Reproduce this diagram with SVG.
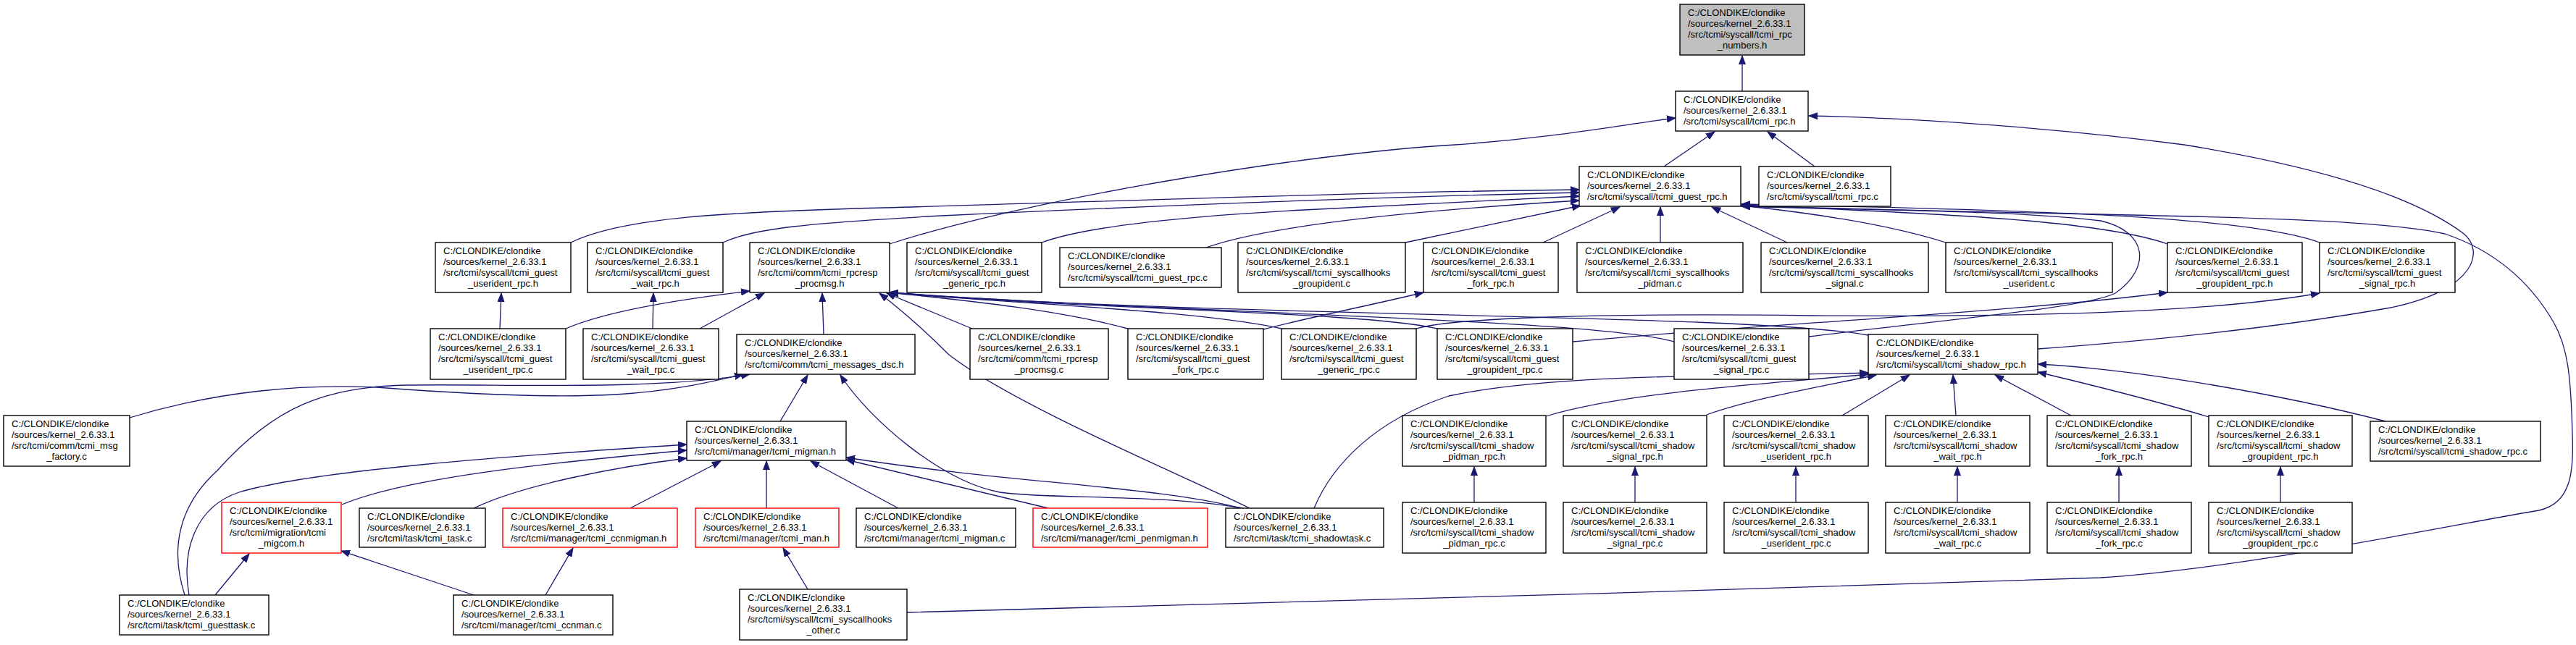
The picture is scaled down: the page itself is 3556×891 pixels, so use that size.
<svg xmlns="http://www.w3.org/2000/svg" width="3556" height="891" viewBox="0 0 3556 891">
<style>
.n rect{fill:#fff;stroke:#000;stroke-width:1.4}
.n.r rect{stroke:#ff0000}
.n.g rect{fill:#bfbfbf}
.n text{font-family:"Liberation Sans",Arial,sans-serif;font-size:13px;fill:#000}
.n text.c{text-anchor:middle}
#edges path{fill:none;stroke:#191970;stroke-width:1.3;marker-end:url(#a)}
</style>
<defs>
<marker id="a" markerWidth="13" markerHeight="10" refX="12" refY="5" orient="auto" markerUnits="userSpaceOnUse">
<path d="M0,0.5 L12,5 L0,9.5 z" fill="#191970" stroke="#191970" stroke-width="1"/>
</marker>
</defs>
<rect width="3556" height="891" fill="#fff"/>
<g id="edges">
<path d="M2405,126 L2405,77"/>
<path d="M2297,230 L2367,182"/>
<path d="M2505,230 L2440,182"/>
<path d="M1228,337 C1420,275 1800,212 2009,200 C2150,190 2240,172 2313,163"/>
<path d="M2813,482 C2950,472 3130,455 3300,425 C3420,400 3430,345 3400,322 C3330,270 3200,230 3015,200 C2850,178 2650,163 2497,160"/>
<path d="M788,335 C860,300 1000,293 1220,287 C1600,276 1900,265 2180,262"/>
<path d="M998,335 C1040,315 1120,308 1300,298 C1600,284 1900,272 2180,266"/>
<path d="M1438,335 C1500,312 1650,298 1800,290 C1950,282 2080,275 2180,271"/>
<path d="M1665,342 C1760,308 2000,288 2180,277"/>
<path d="M1940,335 L2182,284"/>
<path d="M2130,335 L2236,286"/>
<path d="M2292,335 L2292,286"/>
<path d="M2467,335 L2363,286"/>
<path d="M2686,335 C2600,308 2490,293 2404,284"/>
<path d="M2992,337 C2900,305 2700,296 2404,283"/>
<path d="M3202,335 C3100,298 2800,290 2404,282"/>
<path d="M1252,846 C1600,838 2400,815 2900,798 C3100,785 3400,722 3505,705 C3550,695 3553,650 3551,600 C3549,520 3545,480 3525,445 C3490,385 3440,345 3375,323 C3250,295 2900,300 2404,284"/>
<path d="M2497,465 C2700,440 2880,425 2920,405 C2970,370 2965,320 2900,305 C2780,290 2550,290 2404,285"/>
<path d="M2171,472 C2400,450 2800,430 2992,404"/>
<path d="M1955,454 C2000,440 2200,432 2500,436 C2800,438 3050,432 3202,405"/>
<path d="M690,454 L692,405"/>
<path d="M901,454 L902,405"/>
<path d="M781,454 C840,428 950,412 1035,402"/>
<path d="M966,454 L1055,405"/>
<path d="M1137,462 L1135,405"/>
<path d="M1342,454 L1224,405"/>
<path d="M1557,454 C1450,425 1300,412 1228,404"/>
<path d="M1769,454 C1650,428 1400,420 1228,404"/>
<path d="M1984,454 C1880,430 1500,428 1228,404"/>
<path d="M2311,472 C2200,440 1600,432 1228,404"/>
<path d="M2579,463 C2400,432 1700,440 1228,404"/>
<path d="M1725,702 C1640,660 1400,560 1310,490 C1270,450 1240,425 1214,405"/>
<path d="M1744,455 C1800,440 1900,420 1965,404"/>
<path d="M179,577 C300,540 420,530 520,535 C650,545 760,550 850,545 C930,540 985,527 1026,517"/>
<path d="M255,822 C235,760 245,700 300,650 C380,560 450,535 560,532 C700,530 900,540 1035,517"/>
<path d="M1077,582 L1115,518"/>
<path d="M1716,702 C1600,682 1450,690 1380,680 C1300,665 1200,580 1160,518"/>
<path d="M472,697 C560,660 750,640 948,622"/>
<path d="M654,702 C720,670 850,645 948,633"/>
<path d="M870,702 L995,637"/>
<path d="M1058,702 L1058,637"/>
<path d="M1240,702 L1119,637"/>
<path d="M1447,702 L1168,635"/>
<path d="M1713,702 C1600,672 1400,668 1168,632"/>
<path d="M261,822 C250,760 270,700 330,680 C430,650 700,630 948,614"/>
<path d="M297,822 L344,765"/>
<path d="M654,822 L471,761"/>
<path d="M753,822 L791,757"/>
<path d="M1115,814 L1081,757"/>
<path d="M2134,575 C2250,540 2450,530 2579,517"/>
<path d="M2356,573 C2420,550 2520,533 2590,518"/>
<path d="M2543,574 L2636,518"/>
<path d="M2700,574 L2696,518"/>
<path d="M2859,574 L2754,518"/>
<path d="M3049,576 C2980,555 2880,530 2813,514"/>
<path d="M3293,582 C3150,545 2950,510 2813,503"/>
<path d="M1814,702 C1840,640 1900,580 2000,547 C2150,515 2400,520 2579,515"/>
<path d="M2035,694 L2035,645"/>
<path d="M2257,694 L2257,645"/>
<path d="M2479,694 L2479,645"/>
<path d="M2702,694 L2702,645"/>
<path d="M2925,694 L2925,645"/>
<path d="M3148,694 L3148,645"/>
</g>

<g id="n0" class="n g"><rect x="2319" y="6" width="172" height="70"/><text x="2330" y="22">C:/CLONDIKE/clondike</text><text x="2330" y="37">/sources/kernel_2.6.33.1</text><text x="2330" y="52">/src/tcmi/syscall/tcmi_rpc</text><text class="c" x="2405" y="67">_numbers.h</text></g>
<g id="n1" class="n"><rect x="2313" y="126" width="183" height="55"/><text x="2324" y="142">C:/CLONDIKE/clondike</text><text x="2324" y="157">/sources/kernel_2.6.33.1</text><text x="2324" y="172">/src/tcmi/syscall/tcmi_rpc.h</text></g>
<g id="n2" class="n"><rect x="2180" y="230" width="223" height="55"/><text x="2191" y="246">C:/CLONDIKE/clondike</text><text x="2191" y="261">/sources/kernel_2.6.33.1</text><text x="2191" y="276">/src/tcmi/syscall/tcmi_guest_rpc.h</text></g>
<g id="n3" class="n"><rect x="2428" y="230" width="182" height="55"/><text x="2439" y="246">C:/CLONDIKE/clondike</text><text x="2439" y="261">/sources/kernel_2.6.33.1</text><text x="2439" y="276">/src/tcmi/syscall/tcmi_rpc.c</text></g>

<g id="n4" class="n"><rect x="601" y="335" width="187" height="69"/><text x="612" y="351">C:/CLONDIKE/clondike</text><text x="612" y="366">/sources/kernel_2.6.33.1</text><text x="612" y="381">/src/tcmi/syscall/tcmi_guest</text><text class="c" x="694.5" y="396">_userident_rpc.h</text></g>
<g id="n5" class="n"><rect x="811" y="335" width="187" height="69"/><text x="822" y="351">C:/CLONDIKE/clondike</text><text x="822" y="366">/sources/kernel_2.6.33.1</text><text x="822" y="381">/src/tcmi/syscall/tcmi_guest</text><text class="c" x="904.5" y="396">_wait_rpc.h</text></g>
<g id="n6" class="n"><rect x="1035" y="335" width="193" height="69"/><text x="1046" y="351">C:/CLONDIKE/clondike</text><text x="1046" y="366">/sources/kernel_2.6.33.1</text><text x="1046" y="381">/src/tcmi/comm/tcmi_rpcresp</text><text class="c" x="1131.5" y="396">_procmsg.h</text></g>
<g id="n7" class="n"><rect x="1252" y="335" width="186" height="69"/><text x="1263" y="351">C:/CLONDIKE/clondike</text><text x="1263" y="366">/sources/kernel_2.6.33.1</text><text x="1263" y="381">/src/tcmi/syscall/tcmi_guest</text><text class="c" x="1345" y="396">_generic_rpc.h</text></g>
<g id="n8" class="n"><rect x="1463" y="342" width="223" height="55"/><text x="1474" y="358">C:/CLONDIKE/clondike</text><text x="1474" y="373">/sources/kernel_2.6.33.1</text><text x="1474" y="388">/src/tcmi/syscall/tcmi_guest_rpc.c</text></g>
<g id="n9" class="n"><rect x="1709" y="335" width="231" height="69"/><text x="1720" y="351">C:/CLONDIKE/clondike</text><text x="1720" y="366">/sources/kernel_2.6.33.1</text><text x="1720" y="381">/src/tcmi/syscall/tcmi_syscallhooks</text><text class="c" x="1824.5" y="396">_groupident.c</text></g>
<g id="n10" class="n"><rect x="1965" y="335" width="186" height="69"/><text x="1976" y="351">C:/CLONDIKE/clondike</text><text x="1976" y="366">/sources/kernel_2.6.33.1</text><text x="1976" y="381">/src/tcmi/syscall/tcmi_guest</text><text class="c" x="2058" y="396">_fork_rpc.h</text></g>
<g id="n11" class="n"><rect x="2177" y="335" width="229" height="69"/><text x="2188" y="351">C:/CLONDIKE/clondike</text><text x="2188" y="366">/sources/kernel_2.6.33.1</text><text x="2188" y="381">/src/tcmi/syscall/tcmi_syscallhooks</text><text class="c" x="2291.5" y="396">_pidman.c</text></g>
<g id="n12" class="n"><rect x="2431" y="335" width="231" height="69"/><text x="2442" y="351">C:/CLONDIKE/clondike</text><text x="2442" y="366">/sources/kernel_2.6.33.1</text><text x="2442" y="381">/src/tcmi/syscall/tcmi_syscallhooks</text><text class="c" x="2546.5" y="396">_signal.c</text></g>
<g id="n13" class="n"><rect x="2686" y="335" width="230" height="69"/><text x="2697" y="351">C:/CLONDIKE/clondike</text><text x="2697" y="366">/sources/kernel_2.6.33.1</text><text x="2697" y="381">/src/tcmi/syscall/tcmi_syscallhooks</text><text class="c" x="2801" y="396">_userident.c</text></g>
<g id="n14" class="n"><rect x="2992" y="335" width="186" height="69"/><text x="3003" y="351">C:/CLONDIKE/clondike</text><text x="3003" y="366">/sources/kernel_2.6.33.1</text><text x="3003" y="381">/src/tcmi/syscall/tcmi_guest</text><text class="c" x="3085" y="396">_groupident_rpc.h</text></g>
<g id="n15" class="n"><rect x="3202" y="335" width="187" height="69"/><text x="3213" y="351">C:/CLONDIKE/clondike</text><text x="3213" y="366">/sources/kernel_2.6.33.1</text><text x="3213" y="381">/src/tcmi/syscall/tcmi_guest</text><text class="c" x="3295.5" y="396">_signal_rpc.h</text></g>

<g id="n16" class="n"><rect x="594" y="454" width="187" height="70"/><text x="605" y="470">C:/CLONDIKE/clondike</text><text x="605" y="485">/sources/kernel_2.6.33.1</text><text x="605" y="500">/src/tcmi/syscall/tcmi_guest</text><text class="c" x="687.5" y="515">_userident_rpc.c</text></g>
<g id="n17" class="n"><rect x="805" y="454" width="187" height="70"/><text x="816" y="470">C:/CLONDIKE/clondike</text><text x="816" y="485">/sources/kernel_2.6.33.1</text><text x="816" y="500">/src/tcmi/syscall/tcmi_guest</text><text class="c" x="898.5" y="515">_wait_rpc.c</text></g>
<g id="n18" class="n"><rect x="1017" y="462" width="246" height="55"/><text x="1028" y="478">C:/CLONDIKE/clondike</text><text x="1028" y="493">/sources/kernel_2.6.33.1</text><text x="1028" y="508">/src/tcmi/comm/tcmi_messages_dsc.h</text></g>
<g id="n19" class="n"><rect x="1339" y="454" width="191" height="70"/><text x="1350" y="470">C:/CLONDIKE/clondike</text><text x="1350" y="485">/sources/kernel_2.6.33.1</text><text x="1350" y="500">/src/tcmi/comm/tcmi_rpcresp</text><text class="c" x="1434.5" y="515">_procmsg.c</text></g>
<g id="n20" class="n"><rect x="1557" y="454" width="187" height="70"/><text x="1568" y="470">C:/CLONDIKE/clondike</text><text x="1568" y="485">/sources/kernel_2.6.33.1</text><text x="1568" y="500">/src/tcmi/syscall/tcmi_guest</text><text class="c" x="1650.5" y="515">_fork_rpc.c</text></g>
<g id="n21" class="n"><rect x="1769" y="454" width="186" height="70"/><text x="1780" y="470">C:/CLONDIKE/clondike</text><text x="1780" y="485">/sources/kernel_2.6.33.1</text><text x="1780" y="500">/src/tcmi/syscall/tcmi_guest</text><text class="c" x="1862" y="515">_generic_rpc.c</text></g>
<g id="n22" class="n"><rect x="1984" y="454" width="187" height="70"/><text x="1995" y="470">C:/CLONDIKE/clondike</text><text x="1995" y="485">/sources/kernel_2.6.33.1</text><text x="1995" y="500">/src/tcmi/syscall/tcmi_guest</text><text class="c" x="2077.5" y="515">_groupident_rpc.c</text></g>
<g id="n23" class="n"><rect x="2311" y="454" width="186" height="70"/><text x="2322" y="470">C:/CLONDIKE/clondike</text><text x="2322" y="485">/sources/kernel_2.6.33.1</text><text x="2322" y="500">/src/tcmi/syscall/tcmi_guest</text><text class="c" x="2404" y="515">_signal_rpc.c</text></g>
<g id="n24" class="n"><rect x="2579" y="462" width="234" height="55"/><text x="2590" y="478">C:/CLONDIKE/clondike</text><text x="2590" y="493">/sources/kernel_2.6.33.1</text><text x="2590" y="508">/src/tcmi/syscall/tcmi_shadow_rpc.h</text></g>

<g id="n25" class="n"><rect x="5" y="574" width="174" height="70"/><text x="16" y="590">C:/CLONDIKE/clondike</text><text x="16" y="605">/sources/kernel_2.6.33.1</text><text x="16" y="620">/src/tcmi/comm/tcmi_msg</text><text class="c" x="92" y="635">_factory.c</text></g>
<g id="n26" class="n"><rect x="948" y="582" width="220" height="54"/><text x="959" y="598">C:/CLONDIKE/clondike</text><text x="959" y="613">/sources/kernel_2.6.33.1</text><text x="959" y="628">/src/tcmi/manager/tcmi_migman.h</text></g>
<g id="n27" class="n"><rect x="1936" y="574" width="198" height="70"/><text x="1947" y="590">C:/CLONDIKE/clondike</text><text x="1947" y="605">/sources/kernel_2.6.33.1</text><text x="1947" y="620">/src/tcmi/syscall/tcmi_shadow</text><text class="c" x="2035" y="635">_pidman_rpc.h</text></g>
<g id="n28" class="n"><rect x="2158" y="574" width="198" height="70"/><text x="2169" y="590">C:/CLONDIKE/clondike</text><text x="2169" y="605">/sources/kernel_2.6.33.1</text><text x="2169" y="620">/src/tcmi/syscall/tcmi_shadow</text><text class="c" x="2257" y="635">_signal_rpc.h</text></g>
<g id="n29" class="n"><rect x="2380" y="574" width="199" height="70"/><text x="2391" y="590">C:/CLONDIKE/clondike</text><text x="2391" y="605">/sources/kernel_2.6.33.1</text><text x="2391" y="620">/src/tcmi/syscall/tcmi_shadow</text><text class="c" x="2479.5" y="635">_userident_rpc.h</text></g>
<g id="n30" class="n"><rect x="2603" y="574" width="199" height="70"/><text x="2614" y="590">C:/CLONDIKE/clondike</text><text x="2614" y="605">/sources/kernel_2.6.33.1</text><text x="2614" y="620">/src/tcmi/syscall/tcmi_shadow</text><text class="c" x="2702.5" y="635">_wait_rpc.h</text></g>
<g id="n31" class="n"><rect x="2826" y="574" width="199" height="70"/><text x="2837" y="590">C:/CLONDIKE/clondike</text><text x="2837" y="605">/sources/kernel_2.6.33.1</text><text x="2837" y="620">/src/tcmi/syscall/tcmi_shadow</text><text class="c" x="2925.5" y="635">_fork_rpc.h</text></g>
<g id="n32" class="n"><rect x="3049" y="574" width="198" height="70"/><text x="3060" y="590">C:/CLONDIKE/clondike</text><text x="3060" y="605">/sources/kernel_2.6.33.1</text><text x="3060" y="620">/src/tcmi/syscall/tcmi_shadow</text><text class="c" x="3148" y="635">_groupident_rpc.h</text></g>
<g id="n33" class="n"><rect x="3272" y="582" width="235" height="55"/><text x="3283" y="598">C:/CLONDIKE/clondike</text><text x="3283" y="613">/sources/kernel_2.6.33.1</text><text x="3283" y="628">/src/tcmi/syscall/tcmi_shadow_rpc.c</text></g>

<g id="n34" class="n r"><rect x="306" y="694" width="165" height="70"/><text x="317" y="710">C:/CLONDIKE/clondike</text><text x="317" y="725">/sources/kernel_2.6.33.1</text><text x="317" y="740">/src/tcmi/migration/tcmi</text><text class="c" x="388.5" y="755">_migcom.h</text></g>
<g id="n35" class="n"><rect x="496" y="702" width="174" height="54"/><text x="507" y="718">C:/CLONDIKE/clondike</text><text x="507" y="733">/sources/kernel_2.6.33.1</text><text x="507" y="748">/src/tcmi/task/tcmi_task.c</text></g>
<g id="n36" class="n r"><rect x="694" y="702" width="241" height="54"/><text x="705" y="718">C:/CLONDIKE/clondike</text><text x="705" y="733">/sources/kernel_2.6.33.1</text><text x="705" y="748">/src/tcmi/manager/tcmi_ccnmigman.h</text></g>
<g id="n37" class="n r"><rect x="960" y="702" width="198" height="54"/><text x="971" y="718">C:/CLONDIKE/clondike</text><text x="971" y="733">/sources/kernel_2.6.33.1</text><text x="971" y="748">/src/tcmi/manager/tcmi_man.h</text></g>
<g id="n38" class="n"><rect x="1182" y="702" width="220" height="54"/><text x="1193" y="718">C:/CLONDIKE/clondike</text><text x="1193" y="733">/sources/kernel_2.6.33.1</text><text x="1193" y="748">/src/tcmi/manager/tcmi_migman.c</text></g>
<g id="n39" class="n r"><rect x="1426" y="702" width="241" height="54"/><text x="1437" y="718">C:/CLONDIKE/clondike</text><text x="1437" y="733">/sources/kernel_2.6.33.1</text><text x="1437" y="748">/src/tcmi/manager/tcmi_penmigman.h</text></g>
<g id="n40" class="n"><rect x="1692" y="702" width="218" height="54"/><text x="1703" y="718">C:/CLONDIKE/clondike</text><text x="1703" y="733">/sources/kernel_2.6.33.1</text><text x="1703" y="748">/src/tcmi/task/tcmi_shadowtask.c</text></g>
<g id="n41" class="n"><rect x="1936" y="694" width="198" height="70"/><text x="1947" y="710">C:/CLONDIKE/clondike</text><text x="1947" y="725">/sources/kernel_2.6.33.1</text><text x="1947" y="740">/src/tcmi/syscall/tcmi_shadow</text><text class="c" x="2035" y="755">_pidman_rpc.c</text></g>
<g id="n42" class="n"><rect x="2158" y="694" width="198" height="70"/><text x="2169" y="710">C:/CLONDIKE/clondike</text><text x="2169" y="725">/sources/kernel_2.6.33.1</text><text x="2169" y="740">/src/tcmi/syscall/tcmi_shadow</text><text class="c" x="2257" y="755">_signal_rpc.c</text></g>
<g id="n43" class="n"><rect x="2380" y="694" width="199" height="70"/><text x="2391" y="710">C:/CLONDIKE/clondike</text><text x="2391" y="725">/sources/kernel_2.6.33.1</text><text x="2391" y="740">/src/tcmi/syscall/tcmi_shadow</text><text class="c" x="2479.5" y="755">_userident_rpc.c</text></g>
<g id="n44" class="n"><rect x="2603" y="694" width="199" height="70"/><text x="2614" y="710">C:/CLONDIKE/clondike</text><text x="2614" y="725">/sources/kernel_2.6.33.1</text><text x="2614" y="740">/src/tcmi/syscall/tcmi_shadow</text><text class="c" x="2702.5" y="755">_wait_rpc.c</text></g>
<g id="n45" class="n"><rect x="2826" y="694" width="199" height="70"/><text x="2837" y="710">C:/CLONDIKE/clondike</text><text x="2837" y="725">/sources/kernel_2.6.33.1</text><text x="2837" y="740">/src/tcmi/syscall/tcmi_shadow</text><text class="c" x="2925.5" y="755">_fork_rpc.c</text></g>
<g id="n46" class="n"><rect x="3049" y="694" width="198" height="70"/><text x="3060" y="710">C:/CLONDIKE/clondike</text><text x="3060" y="725">/sources/kernel_2.6.33.1</text><text x="3060" y="740">/src/tcmi/syscall/tcmi_shadow</text><text class="c" x="3148" y="755">_groupident_rpc.c</text></g>

<g id="n47" class="n"><rect x="165" y="822" width="206" height="55"/><text x="176" y="838">C:/CLONDIKE/clondike</text><text x="176" y="853">/sources/kernel_2.6.33.1</text><text x="176" y="868">/src/tcmi/task/tcmi_guesttask.c</text></g>
<g id="n48" class="n"><rect x="626" y="822" width="220" height="55"/><text x="637" y="838">C:/CLONDIKE/clondike</text><text x="637" y="853">/sources/kernel_2.6.33.1</text><text x="637" y="868">/src/tcmi/manager/tcmi_ccnman.c</text></g>
<g id="n49" class="n"><rect x="1021" y="814" width="231" height="70"/><text x="1032" y="830">C:/CLONDIKE/clondike</text><text x="1032" y="845">/sources/kernel_2.6.33.1</text><text x="1032" y="860">/src/tcmi/syscall/tcmi_syscallhooks</text><text class="c" x="1136.5" y="875">_other.c</text></g>
</svg>
